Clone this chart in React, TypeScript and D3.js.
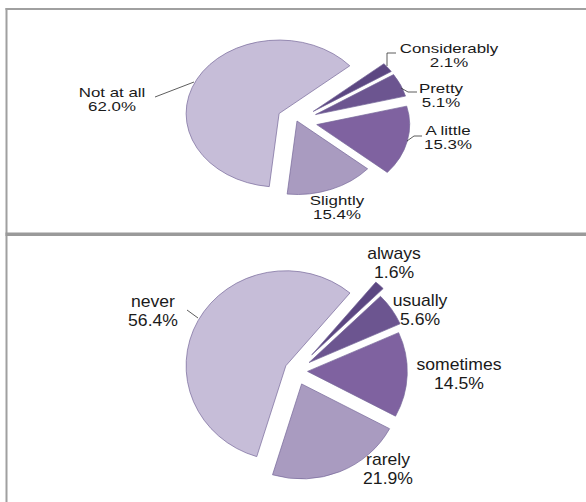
import React from "react";
import * as d3 from "d3";

const topCategories = ["Considerably", "Pretty", "A little", "Slightly", "Not at all"];
const topValues = [2.1, 5.1, 15.3, 15.4, 62.0];
const bottomCategories = ["always", "usually", "sometimes", "rarely", "never"];
const bottomValues = [1.6, 5.6, 14.5, 21.9, 56.4];

const sliceColors = ["#5c4782", "#6c5590", "#7f62a0", "#a99bc0", "#c6bdd8"];

type Pt = [number, number];
type Layout = {
  cx: number;
  cy: number;
  r: number;
  sx: number;
  startDeg: number;
  explode: number[];
  fontSize: number;
  textSx: number;
  lineGap: number;
  labels: Pt[];
  leaders: (Pt[] | null)[];
};

const topLayout: Layout = {
  cx: 297,
  cy: 121,
  r: 73.5,
  sx: 1.265,
  startDeg: 49.5,
  explode: [16, 16, 16, 0, 16],
  fontSize: 13,
  textSx: 1.3,
  lineGap: 14.5,
  labels: [
    [449, 53],
    [441, 93],
    [448, 135],
    [337, 205],
    [112, 97],
  ],
  leaders: [
    [[387, 66], [387, 53], [396, 53]],
    [[401, 88], [408, 92], [417, 92]],
    [[407, 141], [414, 136], [422, 136]],
    null,
    [[155, 97], [194, 82]],
  ],
};

const bottomLayout: Layout = {
  cx: 296,
  cy: 371,
  r: 95,
  sx: 1.05,
  startDeg: 40,
  explode: [22, 15, 11, 14, 11],
  fontSize: 16,
  textSx: 1.1,
  lineGap: 19,
  labels: [
    [394, 259],
    [420, 306],
    [459, 370],
    [388, 465],
    [153, 307],
  ],
  leaders: [null, null, null, null, [[187, 310], [198, 318]]],
};

function PieChart({ categories, values, layout }: { categories: string[]; values: number[]; layout: Layout }) {
  const start = (layout.startDeg * Math.PI) / 180;
  const pie = d3
    .pie<number>()
    .sort(null)
    .value((d) => d)
    .startAngle(start)
    .endAngle(start + 2 * Math.PI);
  const arcs = pie(values);
  const arcGen = d3.arc<d3.PieArcDatum<number>>().innerRadius(0).outerRadius(layout.r);
  const line = d3.line();
  return (
    <g>
      <g transform={`translate(${layout.cx},${layout.cy}) scale(${layout.sx},1)`}>
        {arcs.map((a, i) => {
          const mid = (a.startAngle + a.endAngle) / 2;
          const e = layout.explode[i];
          const dx = Math.sin(mid) * e;
          const dy = -Math.cos(mid) * e;
          return (
            <path
              key={i}
              d={arcGen(a) || ""}
              transform={`translate(${dx},${dy})`}
              fill={sliceColors[i]}
              stroke="#76679a"
              strokeWidth={0.7}
              vectorEffect="non-scaling-stroke"
            />
          );
        })}
      </g>
      {layout.leaders.map((pts, i) =>
        pts ? (
          <path key={"l" + i} d={line(pts) || ""} fill="none" stroke="#333" strokeWidth={0.8} />
        ) : null
      )}
      {categories.map((c, i) => {
        const [x, y] = layout.labels[i];
        return (
          <g key={"t" + i} transform={`translate(${x},${y}) scale(${layout.textSx},1)`}>
            <text
              x={0}
              y={0}
              textAnchor="middle"
              fontFamily="'Liberation Sans', Arial, sans-serif"
              fontSize={layout.fontSize}
              fill="#1a1a1a"
            >
              {c}
            </text>
            <text
              x={0}
              y={layout.lineGap}
              textAnchor="middle"
              fontFamily="'Liberation Sans', Arial, sans-serif"
              fontSize={layout.fontSize}
              fill="#1a1a1a"
            >
              {values[i].toFixed(1) + "%"}
            </text>
          </g>
        );
      })}
    </g>
  );
}

export default function App() {
  return (
    <svg
      width={586}
      height={502}
      style={{ position: "absolute", left: 0, top: 0, background: "#fff" }}
    >
      <rect x={0} y={0} width={586} height={502} fill="#fff" />
      <PieChart categories={topCategories} values={topValues} layout={topLayout} />
      <PieChart categories={bottomCategories} values={bottomValues} layout={bottomLayout} />
      <rect x={5.5} y={8} width={586} height={2} fill="#a0a0a0" />
      <rect x={5.5} y={8} width={2} height={494} fill="#a0a0a0" />
      <rect x={5.5} y={232.5} width={586} height={3.5} fill="#9a9a9a" />
    </svg>
  );
}
